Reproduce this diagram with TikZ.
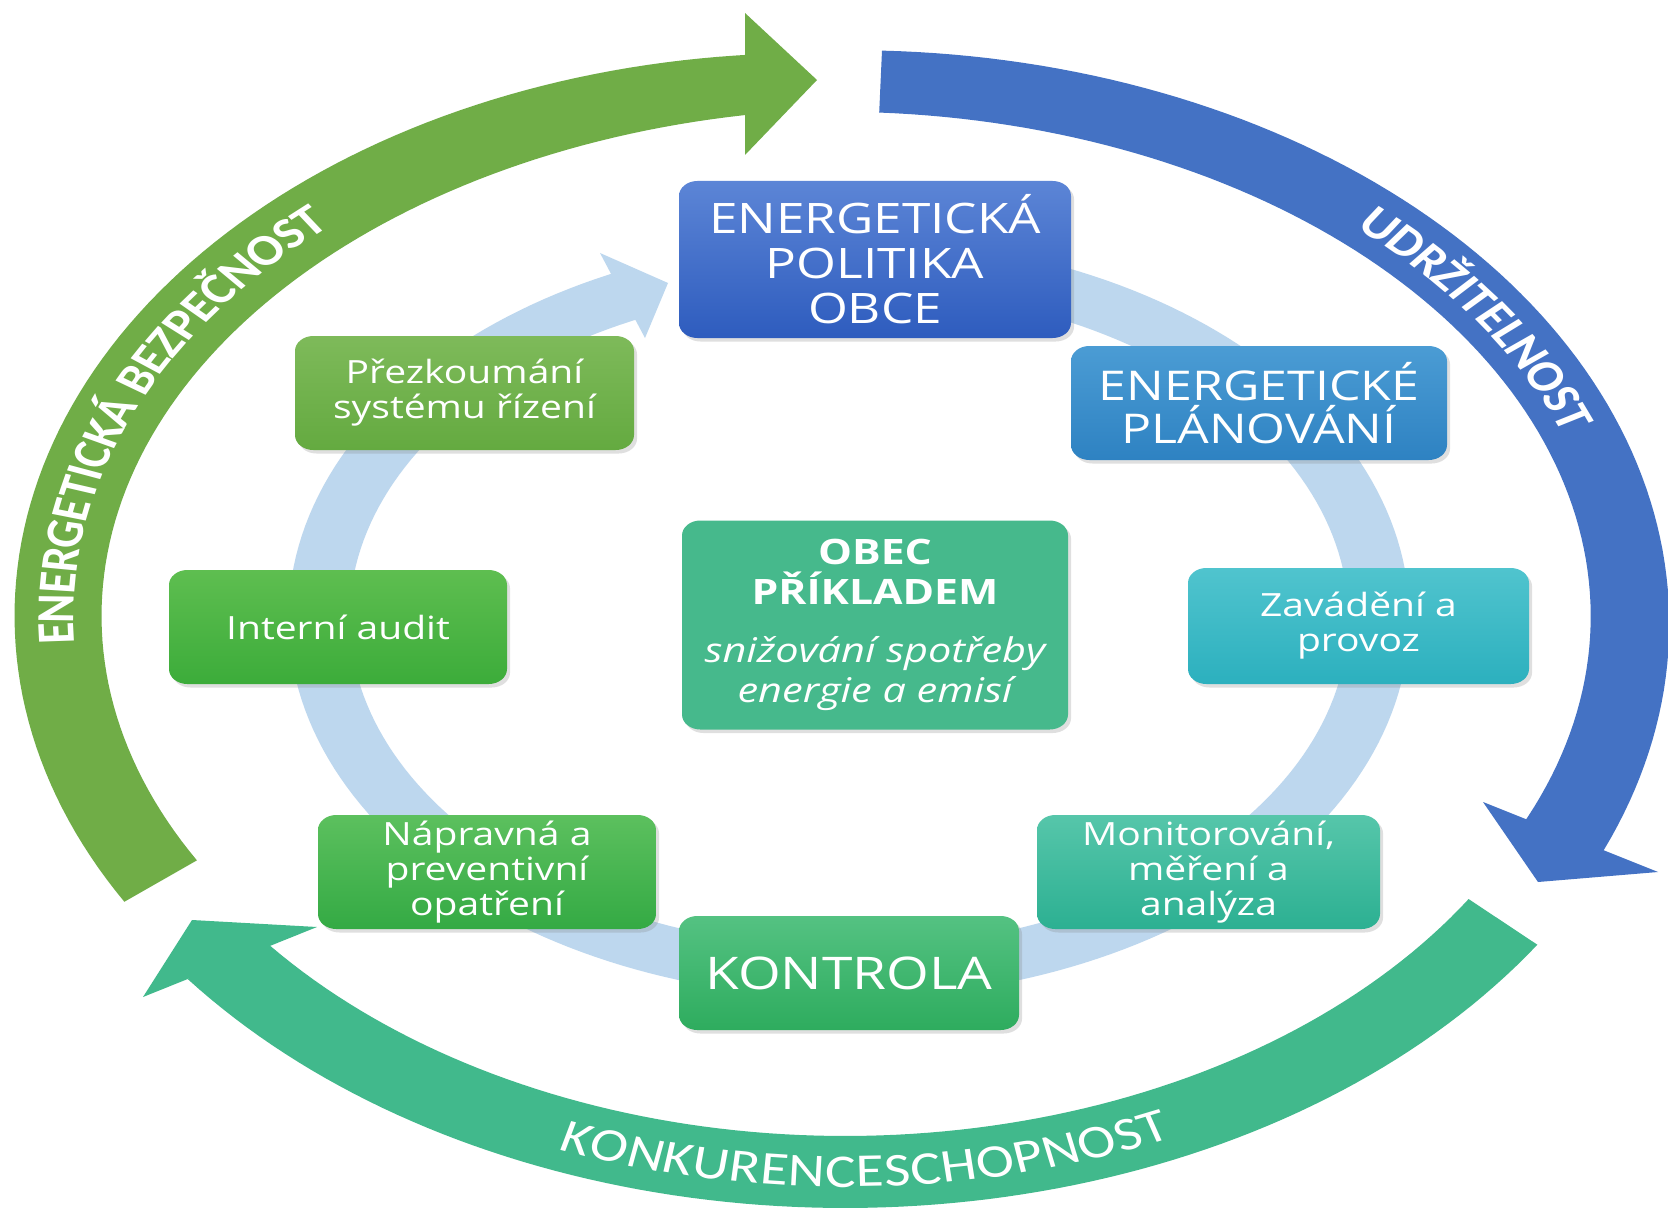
\documentclass[tikz,border=0pt]{standalone}
\usepackage{fontspec}
\setmainfont{Open Sans}
\newfontfamily\carlito{Carlito}
\usetikzlibrary{shadows,decorations.text}

\definecolor{arcgreen}{RGB}{112,173,71}
\definecolor{arcblue}{RGB}{68,114,196}
\definecolor{arcteal}{RGB}{65,185,140}
\definecolor{ringblue}{RGB}{189,215,238}
\definecolor{polT}{RGB}{92,133,214}\definecolor{polB}{RGB}{46,92,190}
\definecolor{planT}{RGB}{75,156,212}\definecolor{planB}{RGB}{46,130,194}
\definecolor{zavT}{RGB}{80,196,206}\definecolor{zavB}{RGB}{44,176,190}
\definecolor{monT}{RGB}{86,198,170}\definecolor{monB}{RGB}{44,176,146}
\definecolor{konT}{RGB}{84,194,130}\definecolor{konB}{RGB}{46,172,94}
\definecolor{napT}{RGB}{92,192,94}\definecolor{napB}{RGB}{52,170,68}
\definecolor{audT}{RGB}{94,190,80}\definecolor{audB}{RGB}{60,172,58}
\definecolor{prezT}{RGB}{126,186,90}\definecolor{prezB}{RGB}{100,170,64}
\definecolor{obecC}{RGB}{70,185,140}

\newcommand\arcTxtA{\color{white}\carlito\bfseries\fontsize{44}{44}\selectfont}
\newcommand\arcTxtB{\color{white}\carlito\bfseries\fontsize{44}{44}\selectfont}
\newcommand\arcTxtC{\color{white}\carlito\fontsize{47}{47}\selectfont}

\tikzset{
  cbox/.style 2 args={rectangle, rounded corners=15pt,
    minimum width=#1*0.819672pt, minimum height=#2pt, inner sep=0pt,
    text=white, align=center,
    drop shadow={opacity=0.25, shadow xshift=2.5pt, shadow yshift=-3.5pt}},
  bigtxt/.style={font=\fontsize{42}{45}\selectfont},
  smalltxt/.style={font=\fontsize{32}{35}\selectfont},
}

\begin{document}
\begin{tikzpicture}[declare function={
    wg(\t)=87-27*((\t-180)/83)*((\t-180)/83);
    wb(\t)=62+21*(87.4-\t)/110.8;
    wt(\t)=72+10*((\t+90)/55)*((\t+90)/55);
  }]
\useasboundingbox (0pt,0pt) rectangle (1668pt,-1209pt);
\fill[white] (0pt,0pt) rectangle (1668pt,-1209pt);

\begin{scope}[transform canvas={xscale=1.22}, x=0.819672pt, y=-1pt]

% ---------- outer green arc ----------
\fill[arcgreen]
  plot[domain=96:209.7, samples=90, variable=\t]
    ({839+(781+wg(\t)/2)*cos(\t)},{616-(535+wg(\t)/2)*sin(\t)})
  -- plot[domain=209.7:96, samples=90, variable=\t]
    ({839+(781-wg(\t)/2)*cos(\t)},{616-(535-wg(\t)/2)*sin(\t)})
  -- cycle;
\coordinate (gw1) at (745,13);
\coordinate (gtip) at (817,80);
\coordinate (gw2) at (745,155);
\fill[arcgreen] (gw1) -- (gtip) -- (gw2) -- cycle;

% ---------- outer blue arc ----------
\fill[arcblue]
  plot[domain=87.4:-24.5, samples=90, variable=\t]
    ({845+(785+wb(\t)/2)*cos(\t)},{620-(539+wb(\t)/2)*sin(\t)})
  -- plot[domain=-24.5:87.4, samples=90, variable=\t]
    ({845+(785-wb(\t)/2)*cos(\t)},{620-(539-wb(\t)/2)*sin(\t)})
  -- cycle;
\coordinate (bw1) at (1483,802);
\coordinate (btip) at (1538,882);
\coordinate (bw2) at (1658,872);
\fill[arcblue] (bw1) -- (btip) -- (bw2) -- cycle;

% ---------- outer teal arc ----------
\fill[arcteal]
  plot[domain=-33.6:-142.3, samples=90, variable=\t]
    ({845+(790+wt(\t)/2)*cos(\t)},{612-(560+wt(\t)/2)*sin(\t)})
  -- plot[domain=-142.3:-33.6, samples=90, variable=\t]
    ({845+(790-wt(\t)/2)*cos(\t)},{612-(560-wt(\t)/2)*sin(\t)})
  -- cycle;
\coordinate (tw1) at (317,927);
\coordinate (ttip) at (192,920);
\coordinate (tw2) at (143,997);
\fill[arcteal] (tw1) -- (ttip) -- (tw2) -- cycle;

% ---------- texts on outer arcs ----------
\path[decorate, decoration={text along path, text align=center, raise=-13pt,
    text={|\arcTxtA|ENERGETICKÁ BEZPEČNOST}}]
  plot[domain=196:120, samples=80, variable=\t]
    ({839+781*cos(\t)},{616-535*sin(\t)});
\path[decorate, decoration={text along path, text align=center, raise=-14pt,
    text={|\arcTxtB|UDRŽITELNOST}}]
  plot[domain=60:8, samples=80, variable=\t]
    ({845+785*cos(\t)},{620-539*sin(\t)});
\path[decorate, decoration={text along path, text align=center, raise=-15pt,
    text={|\arcTxtC|KONKURENCESCHOPNOST}}]
  plot[domain=-126:-50.8, samples=100, variable=\t]
    ({845+790*cos(\t)},{612-560*sin(\t)});

% ---------- inner light-blue cycle ----------
\draw[ringblue, line width=50pt]
  plot[domain=90:-246, samples=220, variable=\t]
    ({849+530*cos(\t)},{618-355*sin(\t)});
\coordinate (rw1) at (600,253);
\coordinate (rtip) at (668,283);
\coordinate (rw2) at (645,338);
\fill[ringblue] (rw1) -- (rtip) -- (rw2) -- cycle;

% ---------- boxes ----------
\node[cbox={392}{157}, top color=polT, bottom color=polB, bigtxt] (pol) at (875,259.5)
  {ENERGETICKÁ\\POLITIKA\\OBCE};
\node[cbox={376}{114}, top color=planT, bottom color=planB,
      font=\fontsize{41}{42.5}\selectfont] (plan) at (1259,403)
  {ENERGETICKÉ\\PLÁNOVÁNÍ};
\node[cbox={341}{116}, top color=zavT, bottom color=zavB, smalltxt] (zav) at (1358.5,626)
  {Zavádění a\\provoz};
\node[cbox={343}{114}, top color=monT, bottom color=monB, smalltxt] (mon) at (1208.5,872)
  {Monitorování,\\měření a\\analýza};
\node[cbox={340}{114}, top color=konT, bottom color=konB,
      font=\fontsize{45}{48}\selectfont] (kon) at (849,973)
  {KONTROLA};
\node[cbox={338}{114}, top color=napT, bottom color=napB, smalltxt] (nap) at (487,872)
  {Nápravná a\\preventivní\\opatření};
\node[cbox={338}{114}, top color=audT, bottom color=audB, smalltxt] (aud) at (338,627)
  {Interní audit};
\node[cbox={339}{114}, top color=prezT, bottom color=prezB, smalltxt] (prez) at (464.5,393)
  {Přezkoumání\\systému řízení};
\node[cbox={386}{209}, fill=obecC, font=\fontsize{35}{40}\selectfont] (obec) at (875,625)
  {\bfseries OBEC\\\bfseries PŘÍKLADEM\\[18pt]\fontsize{34}{37}\selectfont\itshape snižování spotřeby\\\fontsize{34}{37}\selectfont\itshape energie a emisí};

\end{scope}
\end{tikzpicture}
\end{document}
